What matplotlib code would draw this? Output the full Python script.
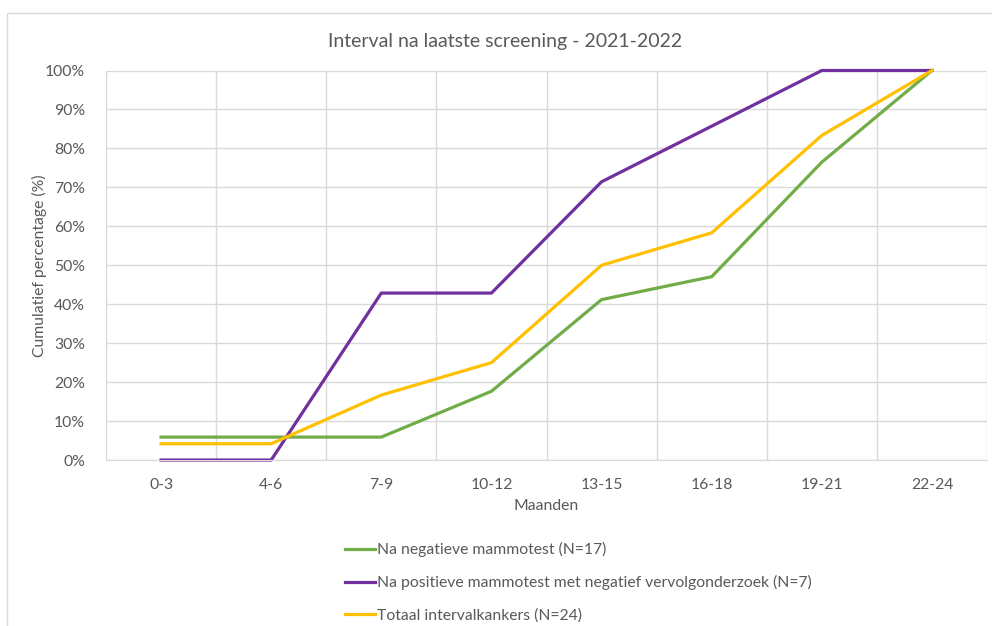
import matplotlib.pyplot as plt
from matplotlib.patches import Rectangle

months = ["0-3", "4-6", "7-9", "10-12", "13-15", "16-18", "19-21", "22-24"]

# cumulative percentages per interval
neg_mammo = [5.88, 5.88, 5.88, 17.65, 41.18, 47.06, 76.47, 100.0]
pos_mammo = [0.0, 0.0, 42.86, 42.86, 71.43, 85.71, 100.0, 100.0]
totaal = [4.17, 4.17, 16.67, 25.0, 50.0, 58.33, 83.33, 100.0]

labels = ["Na negatieve mammotest (N=17)",
          "Na positieve mammotest met negatief vervolgonderzoek (N=7)",
          "Totaal intervalkankers (N=24)"]
colors = ["#70AD47", "#7030A0", "#FFC000"]

txt = "#595959"
grid = "#d9d9d9"
plt.rcParams['font.family'] = ['Lato', 'DejaVu Sans']

fig = plt.figure(figsize=(9.92, 6.26), dpi=100)
fig.patches.append(Rectangle((7 / 992, -0.1), 1.1, 1.1 - 13 / 626,
                             transform=fig.transFigure, fill=False,
                             edgecolor=grid, lw=1))

ax = fig.add_axes([106 / 992, 166 / 626, 881 / 992, 389.5 / 626])
x = range(len(months))
for ys, c, lab in zip([neg_mammo, pos_mammo, totaal], colors, labels):
    ax.plot(x, ys, color=c, lw=2.3, label=lab, clip_on=False)

ax.set_xlim(-0.5, len(months) - 0.5)
ax.set_ylim(0, 100)
ax.set_yticks(range(0, 101, 10))
ax.set_yticklabels([f"{v}%" for v in range(0, 101, 10)])
ax.set_xticks(list(x))
ax.set_xticklabels(months)
# vertical gridlines sit on the category boundaries
ax.set_xticks([i + 0.5 for i in range(-1, len(months))], minor=True)
ax.grid(True, which='minor', axis='x', color=grid, lw=1)
ax.grid(True, which='major', axis='y', color=grid, lw=1)
ax.set_axisbelow(True)
for s in ['top', 'right', 'left']:
    ax.spines[s].set_visible(False)
ax.spines['bottom'].set_color(grid)
ax.tick_params(which='both', length=0, colors=txt, labelsize=11.3)
ax.tick_params(axis='x', pad=13)
ax.tick_params(axis='y', pad=15)

ax.set_xlabel("Maanden", color=txt, fontsize=11.3, labelpad=5)
ax.set_ylabel("Cumulatief percentage (%)", color=txt, fontsize=11.3)
ax.yaxis.set_label_coords(-0.067, 0.5)
fig.text(505 / 992, 1 - 41 / 626, "Interval na laatste screening - 2021-2022",
         ha='center', va='center', color=txt, fontsize=14)

fig.legend(loc='upper left', bbox_to_anchor=(345 / 992, 1 - 542 / 626),
           frameon=False, borderpad=0, borderaxespad=0, handlelength=1.9,
           handletextpad=0.15, labelspacing=1.15, fontsize=11.3,
           labelcolor=txt)

fig.savefig("out.png", dpi=100)
